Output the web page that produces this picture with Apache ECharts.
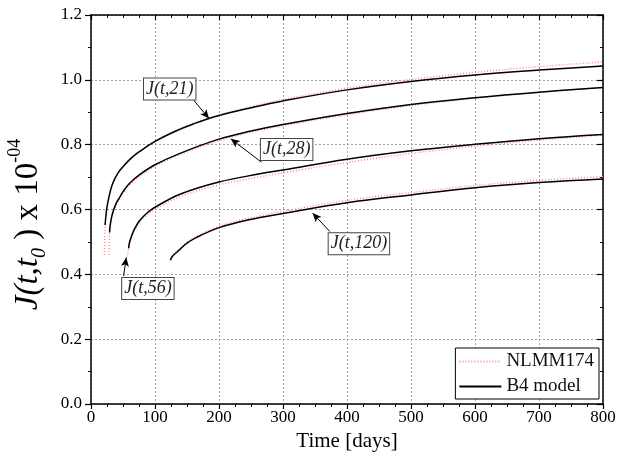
<!DOCTYPE html>
<html>
<head>
<meta charset="utf-8">
<script src="https://cdn.jsdelivr.net/npm/echarts@6/dist/echarts.min.js"></script>
<style>html,body{margin:0;padding:0;background:#fff}#c{width:638px;height:459px}</style>
</head>
<body>
<div id="c"></div>
<script>
// ---- data (time in days, compliance x 1e-4) ----
var t21B = [22, 24, 26, 30, 34, 42, 50, 62, 76, 100, 130, 160, 200, 250, 300, 400, 500, 600, 700, 800];
var J21B = [0.552, 0.593, 0.619, 0.655, 0.681, 0.712, 0.732, 0.757, 0.779, 0.810, 0.840, 0.864, 0.890, 0.914, 0.935, 0.969, 0.995, 1.015, 1.030, 1.043];
var t28B = [29, 30, 32, 35, 40, 45, 50, 60, 75, 100, 140, 200, 250, 300, 400, 500, 600, 700, 800];
var J28B = [0.529, 0.552, 0.575, 0.597, 0.622, 0.638, 0.655, 0.680, 0.706, 0.738, 0.774, 0.817, 0.842, 0.862, 0.896, 0.924, 0.945, 0.962, 0.976];
var t56B = [58.7, 60, 63, 68, 76, 88, 100, 140, 200, 264, 300, 400, 500, 600, 700, 800];
var J56B = [0.480, 0.497, 0.516, 0.540, 0.566, 0.590, 0.607, 0.648, 0.685, 0.710, 0.722, 0.755, 0.781, 0.801, 0.818, 0.831];
var t120B = [124, 128, 138, 150, 165, 200, 233, 264, 300, 400, 500, 600, 700, 800];
var J120B = [0.444, 0.457, 0.475, 0.496, 0.514, 0.544, 0.562, 0.575, 0.588, 0.621, 0.645, 0.667, 0.683, 0.694];

var t21N = [21.2, 22, 24, 26, 30, 34, 42, 50, 62, 76, 100, 130, 160, 200, 250, 300, 400, 500, 600, 700, 800];
var J21N = [0.460, 0.550, 0.590, 0.616, 0.652, 0.678, 0.710, 0.731, 0.757, 0.779, 0.811, 0.841, 0.866, 0.891, 0.917, 0.939, 0.974, 1.001, 1.023, 1.041, 1.055];
var t28N = [28.2, 29, 30, 32, 35, 40, 45, 50, 60, 75, 100, 140, 200, 250, 300, 400, 500, 600, 700, 800];
var J28N = [0.460, 0.528, 0.548, 0.570, 0.592, 0.616, 0.633, 0.650, 0.675, 0.701, 0.733, 0.770, 0.812, 0.838, 0.858, 0.892, 0.921, 0.943, 0.961, 0.977];
var t56N = [56.3, 58.7, 60, 63, 68, 76, 88, 100, 140, 200, 264, 300, 400, 500, 600, 700, 800];
var J56N = [0.455, 0.478, 0.494, 0.512, 0.535, 0.560, 0.584, 0.600, 0.640, 0.676, 0.701, 0.713, 0.745, 0.773, 0.795, 0.814, 0.830];
var t120N = [124, 128, 138, 150, 165, 200, 233, 264, 300, 400, 500, 600, 700, 800];
var J120N = [0.446, 0.460, 0.479, 0.499, 0.518, 0.548, 0.567, 0.580, 0.594, 0.628, 0.652, 0.674, 0.690, 0.701];

var legendNames = ['NLMM174', 'B4 model'];
var curveLabels = ['J(t,21)', 'J(t,28)', 'J(t,56)', 'J(t,120)'];
// annotation anchors in data coords: label centre, arrow start, arrow tip
var labelPos = [[123, 0.972], [305.7, 0.785], [88.9, 0.356], [418.6, 0.4944]];
var arrowFrom = [[160.9, 0.936], [266.3, 0.746], [50.9, 0.395], [373.2, 0.532]];
var arrowTo = [[184.4, 0.881], [218.4, 0.818], [55.1, 0.452], [346.2, 0.589]];

var xTicks = {min: 0, max: 800, interval: 100};
var yTicks = {min: 0, max: 1.2, interval: 0.2};

function pairs(t, v) { return t.map(function (x, i) { return [x, v[i]]; }); }

var FONT = 'Liberation Serif';
var AX = '#000';

var nSeries = [[t21N, J21N], [t28N, J28N], [t56N, J56N], [t120N, J120N]];
var bSeries = [[t21B, J21B], [t28B, J28B], [t56B, J56B], [t120B, J120B]];

var series = [];
nSeries.forEach(function (d) {
  series.push({
    name: legendNames[0], type: 'line', data: pairs(d[0], d[1]),
    showSymbol: false, symbol: 'none', smooth: 0.4,
    lineStyle: {color: '#ff8a8a', width: 1.5, type: [1, 2]},
    itemStyle: {color: '#ff8a8a'}, z: 2
  });
});
bSeries.forEach(function (d, k) {
  series.push({
    name: legendNames[1], type: 'line', data: pairs(d[0], d[1]),
    showSymbol: false, symbol: 'none', smooth: 0.4,
    lineStyle: {color: '#000', width: 1.5},
    itemStyle: {color: '#000'}, z: 3,
    markLine: {
      silent: true, animation: false, symbol: ['none', 'arrow'], symbolSize: [6, 9],
      label: {show: false},
      lineStyle: {color: '#000', width: 1, type: 'solid'},
      data: [[{coord: arrowFrom[k]}, {coord: arrowTo[k]}]]
    },
    markPoint: {
      silent: true, animation: false, symbol: 'rect', symbolSize: 1,
      itemStyle: {color: 'rgba(0,0,0,0)'},
      label: {
        show: true, position: 'inside', formatter: '{b}',
        fontFamily: FONT, fontStyle: 'italic', fontSize: 18, color: '#222',
        backgroundColor: '#fff', borderColor: '#444', borderWidth: 1,
        padding: [2, 2, 1, 2]
      },
      data: [{name: curveLabels[k], coord: labelPos[k]}]
    }
  });
});

var splitDash = {show: true, lineStyle: {color: '#a0a0a0', width: 1, type: [2, 2]}};

var option = {
  animation: false,
  grid: {left: 91, right: 35, top: 15, bottom: 55, containLabel: false, outerBoundsMode: 'none'},
  legend: {
    data: legendNames, orient: 'vertical', right: 39, bottom: 60,
    itemWidth: 42, itemHeight: 10, itemGap: 6,
    borderColor: '#000', borderWidth: 1, padding: [4, 5, 3, 3],
    backgroundColor: '#fff',
    itemStyle: {opacity: 0},
    textStyle: {fontFamily: FONT, fontSize: 19, color: '#111'}
  },
  xAxis: [{
    type: 'value', position: 'bottom', min: xTicks.min, max: xTicks.max, interval: xTicks.interval,
    name: 'Time [days]', nameLocation: 'middle', nameGap: 24,
    nameTextStyle: {fontFamily: FONT, fontSize: 21, color: '#000'},
    axisLine: {show: true, onZero: false, lineStyle: {color: AX, width: 1.5}},
    axisTick: {show: true, length: 5, lineStyle: {color: AX, width: 1.2}},
    minorTick: {show: true, splitNumber: 4, length: 3, lineStyle: {color: AX, width: 1}},
    axisLabel: {fontFamily: FONT, fontSize: 17, color: '#000', margin: 5},
    splitLine: splitDash
  }, {
    type: 'value', position: 'top', min: xTicks.min, max: xTicks.max, interval: xTicks.interval,
    axisLine: {show: true, onZero: false, lineStyle: {color: AX, width: 1.5}},
    axisTick: {show: true, inside: true, length: 5, lineStyle: {color: AX, width: 1.2}},
    minorTick: {show: true, splitNumber: 4, length: 3, lineStyle: {color: AX, width: 1}},
    axisLabel: {show: false}, splitLine: {show: false}
  }],
  yAxis: [{
    type: 'value', position: 'left', min: yTicks.min, max: yTicks.max, interval: yTicks.interval,
    name: '{i|J(t,t}{sub|0}{n| ) x 10}{sup|-04}', nameLocation: 'middle', nameGap: 36, nameRotate: 90,
    nameTextStyle: {
      fontFamily: FONT, fontSize: 33, color: '#000', padding: [0, 30, 0, 0],
      rich: {
        i: {fontFamily: FONT, fontStyle: 'italic', fontSize: 33, lineHeight: 44, color: '#000'},
        sub: {fontFamily: FONT, fontStyle: 'italic', fontSize: 20, verticalAlign: 'bottom', lineHeight: 44, color: '#000'},
        n: {fontFamily: FONT, fontSize: 33, lineHeight: 44, color: '#000'},
        sup: {fontFamily: FONT, fontSize: 18, verticalAlign: 'top', lineHeight: 44, color: '#000'}
      }
    },
    axisLine: {show: true, onZero: false, lineStyle: {color: AX, width: 1.5}},
    axisTick: {show: true, length: 6, lineStyle: {color: AX, width: 1.2}},
    minorTick: {show: true, splitNumber: 2, length: 3, lineStyle: {color: AX, width: 1}},
    axisLabel: {fontFamily: FONT, fontSize: 17, color: '#000', margin: 9,
      formatter: function (v) { return v.toFixed(1); }},
    splitLine: splitDash
  }, {
    type: 'value', position: 'right', min: yTicks.min, max: yTicks.max, interval: yTicks.interval,
    axisLine: {show: true, onZero: false, lineStyle: {color: AX, width: 1.5}},
    axisTick: {show: true, inside: true, length: 6, lineStyle: {color: AX, width: 1.2}},
    minorTick: {show: true, splitNumber: 2, length: 3, lineStyle: {color: AX, width: 1}},
    axisLabel: {show: false}, splitLine: {show: false}
  }],
  series: series
};

var chart = echarts.init(document.getElementById('c'), null, {renderer: 'canvas'});
chart.setOption(option);
</script>
</body>
</html>
